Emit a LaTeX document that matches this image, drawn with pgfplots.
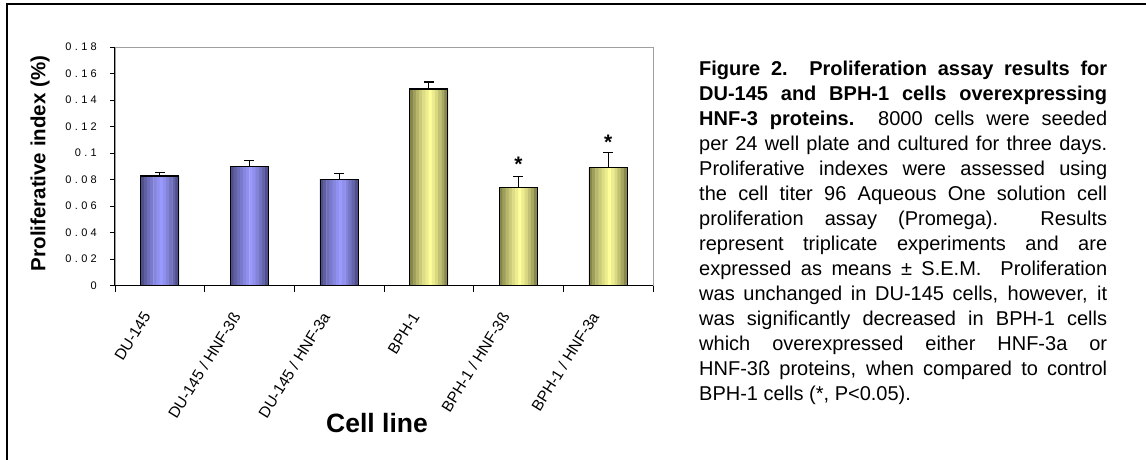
\documentclass[border=0pt]{standalone}
\usepackage{pgfplots}
\usepackage{pgfplotstable}
\pgfplotsset{compat=1.18}
\usepackage{fontspec}
\setmainfont{Liberation Sans}
\newfontfamily\tickfont[LetterSpace=30]{Liberation Sans}
\definecolor{bluelight}{RGB}{155,155,255}
\definecolor{bluedark}{RGB}{62,62,112}
\definecolor{yellight}{RGB}{255,255,155}
\definecolor{yeldark}{RGB}{108,108,58}
\colorlet{b1}{bluelight!17!bluedark}\colorlet{b2}{bluelight!35!bluedark}
\colorlet{b3}{bluelight!51!bluedark}\colorlet{b4}{bluelight!64!bluedark}
\colorlet{b5}{bluelight!77!bluedark}\colorlet{b6}{bluelight!88!bluedark}
\colorlet{b7}{bluelight!99!bluedark}\colorlet{b8}{bluelight!88!bluedark}
\colorlet{b9}{bluelight!74!bluedark}\colorlet{b10}{bluelight!58!bluedark}
\colorlet{b11}{bluelight!41!bluedark}\colorlet{b12}{bluelight!19!bluedark}
\colorlet{y1}{yellight!17!yeldark}\colorlet{y2}{yellight!35!yeldark}
\colorlet{y3}{yellight!51!yeldark}\colorlet{y4}{yellight!64!yeldark}
\colorlet{y5}{yellight!77!yeldark}\colorlet{y6}{yellight!88!yeldark}
\colorlet{y7}{yellight!99!yeldark}\colorlet{y8}{yellight!88!yeldark}
\colorlet{y9}{yellight!74!yeldark}\colorlet{y10}{yellight!58!yeldark}
\colorlet{y11}{yellight!41!yeldark}\colorlet{y12}{yellight!19!yeldark}
\pgfplotstableread{
x y e
0 0.0828 0.0028
1 0.0901 0.0043
2 0.0803 0.0043
}\bluedata
\pgfplotstableread{
x y e
3 0.1484 0.0052
4 0.0743 0.0078
5 0.0892 0.0113
}\yellowdata
\newcommand{\strip}[3]{\addplot[ybar, bar width=3.6pt, bar shift=#2pt, fill=#3, draw=none, forget plot] table[x=x,y=y] {#1};}
\newcommand{\gradbars}[2]{%
\strip{#1}{-17.417}{#21}\strip{#1}{-14.25}{#22}\strip{#1}{-11.083}{#23}%
\strip{#1}{-7.917}{#24}\strip{#1}{-4.75}{#25}\strip{#1}{-1.583}{#26}%
\strip{#1}{1.583}{#27}\strip{#1}{4.75}{#28}\strip{#1}{7.917}{#29}%
\strip{#1}{11.083}{#210}\strip{#1}{14.25}{#211}\strip{#1}{17.417}{#212}}
\begin{document}
\begin{tikzpicture}
\useasboundingbox (0pt,0pt) rectangle (1146pt,-459pt);
\draw[line width=2pt] (7pt,-462pt) -- (7pt,-4pt) -- (1150pt,-4pt);
\begin{axis}[
  at={(115pt,-285.7pt)}, anchor=south west,
  scale only axis, width=538pt, height=238.7pt,
  xmin=-0.5, xmax=5.5, ymin=0, ymax=0.18,
  axis line style={draw=gray!75, line width=0.8pt},
  xtick={0,1,2,3,4,5},
  xticklabels={DU-145, DU-145 / HNF-3ß, DU-145 / HNF-3a, BPH-1, BPH-1 / HNF-3ß, BPH-1 / HNF-3a},
  minor xtick={-0.5,0.5,1.5,2.5,3.5,4.5,5.5},
  major x tick style={draw=none},
  minor x tick style={black, line width=0.8pt},
  minor tick length=6pt,
  ytick={0,0.02,0.04,0.06,0.08,0.1,0.12,0.14,0.16,0.18},
  yticklabels={0,0.02,0.04,0.06,0.08,0.1,0.12,0.14,0.16,0.18},
  major y tick style={black, line width=0.8pt},
  major tick length=5pt,
  tick align=outside,
  xtick pos=bottom, ytick pos=left,
  yticklabel style={font=\tickfont\fontsize{11}{13}\selectfont, anchor=east, inner sep=0pt, xshift=-13pt},
  xticklabel style={font=\fontsize{15.5}{17}\selectfont, xshift=-13pt, yshift=-23pt, rotate=58, anchor=east, inner sep=0pt},
  ylabel={Proliferative index (\%)},
  ylabel style={at={(axis description cs:-0.1394,0.512)}, anchor=center, font=\bfseries\fontsize{20.5}{24}\selectfont},
  xlabel={Cell line},
  xlabel style={at={(axis description cs:0.487,-0.575)}, anchor=center, font=\bfseries\fontsize{26.5}{30}\selectfont},
  after end axis/.code={\draw[black, line width=1pt] (rel axis cs:0,1) -- (rel axis cs:0,0) -- (rel axis cs:1,0);},
]
\gradbars{\bluedata}{b}
\gradbars{\yellowdata}{y}
\addplot[ybar, bar width=38pt, bar shift=0pt, fill=none, draw=black, line width=1.2pt,
  error bars/.cd, y dir=plus, y explicit,
  error bar style={black, line width=1.2pt},
  error mark options={rotate=90, black, line width=1.2pt, mark size=5pt}]
  table[x=x, y=y, y error=e] {\bluedata};
\addplot[ybar, bar width=38pt, bar shift=0pt, fill=none, draw=black, line width=1.2pt,
  error bars/.cd, y dir=plus, y explicit,
  error bar style={black, line width=1.2pt},
  error mark options={rotate=90, black, line width=1.2pt, mark size=5pt}]
  table[x=x, y=y, y error=e] {\yellowdata};
\addplot[draw=none, mark=none, nodes near coords, point meta=explicit symbolic,
  nodes near coords style={anchor=base, inner sep=0pt, font=\bfseries\fontsize{21}{21}\selectfont}]
  coordinates {(4,0.0861) [*] (5,0.1030) [*]};
\end{axis}
\node[anchor=north west, inner sep=0pt] at (699pt,-60.5pt) {\parbox[t]{408pt}{%
\fontsize{20}{25}\selectfont\tolerance=10000\hbadness=10000\hyphenpenalty=10000\exhyphenpenalty=10000\parindent=0pt\noindent
\textbf{Figure 2.\ \ Proliferation assay results for}\linebreak
\textbf{DU-145 and BPH-1 cells overexpressing}\linebreak
\textbf{HNF-3 proteins.}\ \ 8000 cells were seeded\linebreak
per 24 well plate and cultured for three days.\linebreak
Proliferative indexes were assessed using\linebreak
the cell titer 96 Aqueous One solution cell\linebreak
proliferation assay (Promega).\ \ Results\linebreak
represent triplicate experiments and are\linebreak
expressed as means ± S.E.M.\ \ Proliferation\linebreak
was unchanged in DU-145 cells, however, it\linebreak
was significantly decreased in BPH-1 cells\linebreak
which overexpressed either HNF-3a or\linebreak
HNF-3ß proteins, when compared to control\linebreak
BPH-1 cells (*, P<0.05).}};
\end{tikzpicture}
\end{document}
